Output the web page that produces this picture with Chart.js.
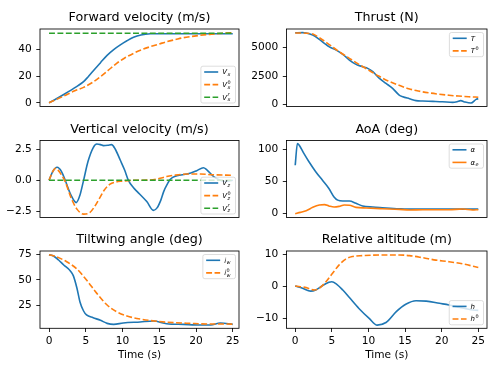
<!DOCTYPE html>
<html><head><meta charset="utf-8">
<script src="https://cdn.jsdelivr.net/npm/chart.js@4.4.1/dist/chart.umd.min.js"></script>
<style>
html,body{margin:0;padding:0;background:#fff;}
body{width:498px;height:374px;position:relative;overflow:hidden;}
canvas{position:absolute;}
</style></head><body>
<canvas id="cFV"></canvas><canvas id="cT"></canvas>
<canvas id="cVV"></canvas><canvas id="cA"></canvas>
<canvas id="cI"></canvas><canvas id="cH"></canvas>
<script>
// ---------- data ----------
const xTicks = [0, 5, 10, 15, 20, 25];

// Forward velocity
const vxTime  = [0,1,2,3,3.8,4.7,5.3,6,7,7.9,8.8,9.7,10.6,11.5,12.5,13.8,15,17,20,25];
const vxVals  = [0,3,6.2,9.5,12.3,15.8,19.3,23.8,30,35.5,39.8,43.3,46.4,49,50.7,51.6,51.7,51.7,51.7,51.7];
const vx0Time = [0,1,2.4,3.5,4.7,6,7,8,9.2,10.3,11.5,12.6,13.8,15,16,17.2,18.3,19.5,20.6,21.8,22.9,24,25];
const vx0Vals = [0,2.5,6,9,11.5,15.5,19.5,24,29.5,33.5,37,39.7,42,44,45.7,47.3,48.7,49.7,50.5,51.2,51.7,52.1,52.4];
const vxrTime = [0,25];
const vxrVals = [52,52];
const fvTicks = [0,20,40];
const fvTickLabels = ['0','20','40'];

// Thrust
const tTime  = [0,1,1.5,2.4,3.3,4,4.6,5.6,6.5,7.4,8.3,9.2,9.9,10.6,11.5,12.4,13.3,14.2,14.7,15.6,16.5,17.4,18.8,20.1,21.5,22.1,22.6,23.2,24,24.7,25];
const tVals  = [6320,6330,6300,6115,5730,5380,5090,4790,4410,3910,3530,3320,3175,2880,2290,1850,1410,820,675,500,325,295,265,235,175,230,325,200,118,440,500];
const t0Time = [0,1,1.5,2.4,3.3,4.6,6,7.4,8.7,10,11.4,12.7,14.1,15.5,16.8,18.2,19.6,21,22.3,23.7,25];
const t0Vals = [6300,6300,6280,6200,5880,5300,4650,4060,3530,3030,2500,2060,1700,1380,1180,1020,900,800,730,670,630];
const thTicks = [0,2500,5000];
const thTickLabels = ['0','2500','5000'];

// Vertical velocity
const vzTime  = [0,0.5,1.1,1.7,2.2,3,3.7,4.2,4.7,5.3,6,6.5,7,7.4,8,8.5,9,9.7,10.3,10.8,11.5,12,13.3,14.2,14.7,15.2,15.6,16.1,16.5,17.4,18.8,20.1,21,21.5,22.4,23.3,24,25];
const vzVals  = [0,0.7,1.04,0.7,0,-1.2,-1.78,-1.2,0,1.5,2.6,2.9,2.85,2.77,2.8,2.85,2.5,1.6,0.8,0,-0.6,-0.9,-1.7,-2.4,-2.2,-1.6,-0.9,-0.3,0.08,0.37,0.5,0.77,1.0,0.82,0.3,0,-0.1,0];
const vz0Time = [0,0.5,0.9,1.5,2.2,3,3.8,4.7,5.5,6.2,7,7.5,8.3,9,9.7,11.5,13.8,15.1,16,17,18.8,20.6,22,25];
const vz0Vals = [0,0.7,0.96,0.6,-0.1,-1.4,-2.3,-2.7,-2.6,-2.1,-1.3,-0.8,-0.3,-0.15,-0.08,0,0.03,0.16,0.3,0.4,0.5,0.5,0.45,0.4];
const vzrTime = [0,25];
const vzrVals = [0,0];
const vvTicks = [-2.5,0,2.5];
const vvTickLabels = ['\u22122.5','0.0','2.5'];

// AoA
const aTime  = [0,0.3,0.55,1.2,1.9,2.8,3.7,4.6,5.3,5.8,6.5,7.4,8.3,9.2,10.6,11.9,14.2,16,18,20,22,24,25];
const aVals  = [75,108.5,106,93,80,65,52,39,26,21,19.6,19.6,16,12,10.3,9.3,7.7,7,7,7,7,7,7];
const aeTime = [0,0.7,1.5,2.4,3.3,4,4.6,5.3,6,6.7,7.4,8.3,9.7,11.9,14.2,15.6,17.4,19.2,21,22.9,24.2,25];
const aeVals = [0,2,4.6,9.8,13.4,14,12,10.3,11.3,13.4,13,9.8,8.8,7.7,6.7,5.7,6.2,6.2,6.2,7.2,5.7,6.2];
const aoaTicks = [0,50,100];
const aoaTickLabels = ['0','50','100'];

// Tiltwing angle
const iwTime  = [0,0.6,1.3,2,2.9,3.3,3.8,4.2,4.7,5.1,6,7,7.9,8.8,10.1,12.4,14.2,16,18.3,20.6,22,23.3,25];
const iwVals  = [75,73.7,69.7,64.8,58.9,54.3,41.8,28.6,19.4,15.5,12.8,10.2,7.2,6.2,7.6,8.6,9.5,6.9,6.2,5.6,5.6,7.6,6.2];
const iw0Time = [0,1,2.4,3.8,5.1,6.5,7.9,9.2,10.6,12.4,14.7,17,19.2,21.5,25];
const iw0Vals = [75,73,68,60.8,50,36.8,25.3,18.7,14.5,11.5,9.2,7.9,7.2,6.6,6.5];
const iwTicks = [25,50,75];
const iwTickLabels = ['25','50','75'];

// Relative altitude
const hTime  = [0,1,2.1,2.8,3.7,4.6,5,5.6,6.5,7.4,8.7,10.1,11.2,12.4,13.8,15.1,16.5,17.9,19.7,21,22.5,24,25];
const hVals  = [0,-0.7,-1.6,-1.25,0.1,1.15,1.35,0.7,-1.25,-3.6,-7,-10.1,-12.2,-11.4,-8,-5.7,-4.6,-4.7,-5.4,-5.9,-6.7,-7.4,-7.6];
const h0Time = [0,1.5,2.6,3.3,4.2,5.1,6,6.9,7.8,9.2,11.9,14.2,15.6,17.4,19.2,21,22.9,25];
const h0Vals = [0,-0.5,-1.25,-0.7,1.35,4,6.6,8.4,9.2,9.5,9.7,9.7,9.5,8.85,8.1,7.6,6.9,5.8];
const altTicks = [-10,0,10];
const altTickLabels = ['\u221210','0','10'];

// ---------- style ----------
const C_BLUE = '#1f77b4', C_ORANGE = '#ff7f0e', C_GREEN = '#2ca02c';
const DASH = [5.9, 2.5];
const FONT = '"DejaVu Sans", sans-serif';
Chart.defaults.font.family = FONT;
Chart.defaults.color = '#000';

function pts(t, v) { return t.map((x, i) => ({ x: x, y: v[i] })); }

const legends = {};

function drawLabel(ctx, lab, x, yb) {
  ctx.font = 'italic 7px ' + FONT;
  ctx.fillText(lab.b, x, yb);
  const w = ctx.measureText(lab.b).width;
  const sx = x + w + 0.4;
  if (lab.sub) {
    ctx.font = 'italic 4.9px ' + FONT;
    ctx.fillText(lab.sub, sx, yb + 1.6);
  }
  if (lab.sup) {
    ctx.font = (lab.supI ? 'italic ' : '') + '4.9px ' + FONT;
    ctx.fillText(lab.sup, sx, yb - 3.3);
  }
}
function labelWidth(ctx, lab) {
  ctx.font = 'italic 7px ' + FONT;
  let w = ctx.measureText(lab.b).width + 0.4;
  let ws = 0, wp = 0;
  ctx.font = 'italic 4.9px ' + FONT;
  if (lab.sub) ws = ctx.measureText(lab.sub).width;
  if (lab.sup) wp = ctx.measureText(lab.sup).width;
  return w + Math.max(ws, wp);
}

Chart.register({
  id: 'mplDecor',
  afterDatasetsDraw(chart) {
    const ctx = chart.ctx, ca = chart.chartArea;
    ctx.save();
    // frame
    ctx.strokeStyle = '#000';
    ctx.lineWidth = 0.85;
    ctx.strokeRect(ca.left, ca.top, ca.right - ca.left, ca.bottom - ca.top);
    // legend
    const lg = legends[chart.canvas.id];
    if (lg) {
      const n = lg.items.length;
      const rowH = 12.6, marg = 5.8;
      let tw = 0;
      lg.items.forEach(it => { tw = Math.max(tw, labelWidth(ctx, it.lab)); });
      const bw = 3.3 + 14 + 4 + tw + 5;
      const bh = 2 * marg + (n - 1) * rowH;
      const bx = ca.right - 3.5 - bw;
      const by = lg.loc === 'upper right' ? ca.top + 3.5 : ca.bottom - 3.5 - bh;
      const r = 2;
      ctx.beginPath();
      ctx.moveTo(bx + r, by);
      ctx.lineTo(bx + bw - r, by); ctx.quadraticCurveTo(bx + bw, by, bx + bw, by + r);
      ctx.lineTo(bx + bw, by + bh - r); ctx.quadraticCurveTo(bx + bw, by + bh, bx + bw - r, by + bh);
      ctx.lineTo(bx + r, by + bh); ctx.quadraticCurveTo(bx, by + bh, bx, by + bh - r);
      ctx.lineTo(bx, by + r); ctx.quadraticCurveTo(bx, by, bx + r, by);
      ctx.closePath();
      ctx.fillStyle = 'rgba(255,255,255,0.8)';
      ctx.fill();
      ctx.strokeStyle = 'rgba(204,204,204,0.8)';
      ctx.lineWidth = 0.85;
      ctx.stroke();
      lg.items.forEach((it, i) => {
        const cy = by + marg + i * rowH;
        ctx.beginPath();
        ctx.setLineDash(it.d ? DASH : []);
        ctx.strokeStyle = it.c;
        ctx.lineWidth = 1.6;
        ctx.moveTo(bx + 3.3, cy);
        ctx.lineTo(bx + 17.3, cy);
        ctx.stroke();
        ctx.setLineDash([]);
        ctx.fillStyle = '#000';
        ctx.textAlign = 'left';
        ctx.textBaseline = 'alphabetic';
        drawLabel(ctx, it.lab, bx + 21.3, cy + 2.4);
      });
    }
    ctx.restore();
  }
});

function gridOpts() {
  return { display: true, drawOnChartArea: false, drawTicks: true, tickLength: 3.7, tickColor: '#000', tickWidth: 0.85 };
}

function build(id, o) {
  const cv = document.getElementById(id);
  cv.width = o.cw; cv.height = o.ch;
  cv.style.left = o.cx + 'px'; cv.style.top = o.cy + 'px';
  const datasets = o.series.map((s, i) => ({
    data: pts(s.t, s.v), borderColor: s.c, backgroundColor: s.c, borderWidth: 1.6,
    borderDash: s.d ? DASH : [], pointRadius: 0, pointHoverRadius: 0, fill: false,
    cubicInterpolationMode: 'monotone', order: 10 - i, borderCapStyle: 'butt', borderJoinStyle: 'round'
  }));
  legends[id] = { loc: o.loc, items: o.series.map(s => ({ c: s.c, d: s.d, lab: s.lab })) };
  const bottomRow = !!o.xh;
  new Chart(cv, {
    type: 'line',
    data: { datasets },
    options: {
      responsive: false, animation: false, devicePixelRatio: 1,
      events: [],
      layout: { padding: { left: 0, right: 6, top: 0, bottom: o.pb } },
      plugins: {
        legend: { display: false }, tooltip: { enabled: false },
        title: { display: true, fullSize: false, text: o.title, color: '#000', font: { size: 12.7, weight: 'normal' },
                 padding: { top: o.tpt, bottom: o.tpb } }
      },
      scales: {
        x: {
          type: 'linear', min: o.xmin, max: o.xmax, display: bottomRow,
          afterBuildTicks: s => { s.ticks = xTicks.map(v => ({ value: v })); },
          afterFit: s => { if (bottomRow) s.height = o.xh; s.paddingLeft = 0; s.paddingRight = 0; },
          grid: gridOpts(), border: { display: false },
          ticks: { font: { size: 10.6 }, color: '#000', padding: 3.3, maxRotation: 0, autoSkip: false,
                   callback: v => String(v) },
          title: { display: bottomRow, text: 'Time (s)', color: '#000', font: { size: 10.6 },
                   padding: { top: 0, bottom: 12.6 } }
        },
        y: {
          type: 'linear', min: o.ymin, max: o.ymax,
          afterBuildTicks: s => { s.ticks = o.yt.map(v => ({ value: v })); },
          afterFit: s => { s.width = o.yw; s.paddingTop = 0; s.paddingBottom = 0; },
          grid: gridOpts(), border: { display: false },
          ticks: { font: { size: 10.6 }, color: '#000', padding: 4.5, autoSkip: false,
                   callback: v => { const k = o.yt.indexOf(v); return k >= 0 ? o.ytl[k] : ''; } }
        }
      }
    }
  });
}

const LEFT = { cx: 0, cw: 245, yw: 40, xmin: -1.23, xmax: 25.85 };
const RIGHT = { cx: 246, cw: 247, yw: 40.5, xmin: -1.19, xmax: 26.19 };
const ROW1 = { cy: 4, ch: 111, pb: 8.5, tpt: 6.38, tpb: 3.38 };
const ROW2 = { cy: 115, ch: 111, pb: 8.5, tpt: 6.88, tpb: 3.38 };
const ROW3 = { cy: 226, ch: 148, pb: 0, tpt: 6.38, tpb: 3.38, xh: 45.7 };

build('cFV', Object.assign({}, LEFT, ROW1, {
  title: 'Forward velocity (m/s)', ymin: -2.8, ymax: 55.2, yt: fvTicks, ytl: fvTickLabels, loc: 'lower right',
  series: [
    { t: vxTime, v: vxVals, c: C_BLUE, d: false, lab: { b: 'V', sub: 'x' } },
    { t: vx0Time, v: vx0Vals, c: C_ORANGE, d: true, lab: { b: 'V', sub: 'x', sup: '0' } },
    { t: vxrTime, v: vxrVals, c: C_GREEN, d: true, lab: { b: 'V', sub: 'x', sup: 'r', supI: true } }
  ]
}));
build('cT', Object.assign({}, RIGHT, ROW1, {
  title: 'Thrust (N)', ymin: -190, ymax: 6650, yt: thTicks, ytl: thTickLabels, loc: 'upper right',
  series: [
    { t: tTime, v: tVals, c: C_BLUE, d: false, lab: { b: 'T' } },
    { t: t0Time, v: t0Vals, c: C_ORANGE, d: true, lab: { b: 'T', sup: '0' } }
  ]
}));
build('cVV', Object.assign({}, LEFT, ROW2, {
  title: 'Vertical velocity (m/s)', ymin: -2.97, ymax: 3.18, yt: vvTicks, ytl: vvTickLabels, loc: 'lower right',
  series: [
    { t: vzTime, v: vzVals, c: C_BLUE, d: false, lab: { b: 'V', sub: 'z' } },
    { t: vz0Time, v: vz0Vals, c: C_ORANGE, d: true, lab: { b: 'V', sub: 'z', sup: '0' } },
    { t: vzrTime, v: vzrVals, c: C_GREEN, d: true, lab: { b: 'V', sub: 'z', sup: 'r', supI: true } }
  ]
}));
build('cA', Object.assign({}, RIGHT, ROW2, {
  title: 'AoA (deg)', ymin: -5.9, ymax: 113.3, yt: aoaTicks, ytl: aoaTickLabels, loc: 'upper right',
  series: [
    { t: aTime, v: aVals, c: C_BLUE, d: false, lab: { b: '\u03b1' } },
    { t: aeTime, v: aeVals, c: C_ORANGE, d: false, lab: { b: '\u03b1', sub: 'e' } }
  ]
}));
build('cI', Object.assign({}, LEFT, ROW3, {
  title: 'Tiltwing angle (deg)', ymin: 2.34, ymax: 78.6, yt: iwTicks, ytl: iwTickLabels, loc: 'upper right',
  series: [
    { t: iwTime, v: iwVals, c: C_BLUE, d: false, lab: { b: 'i', sub: 'w' } },
    { t: iw0Time, v: iw0Vals, c: C_ORANGE, d: true, lab: { b: 'i', sub: 'w', sup: '0' } }
  ]
}));
build('cH', Object.assign({}, RIGHT, ROW3, {
  title: 'Relative altitude (m)', ymin: -13.2, ymax: 10.94, yt: altTicks, ytl: altTickLabels, loc: 'lower right',
  series: [
    { t: hTime, v: hVals, c: C_BLUE, d: false, lab: { b: 'h' } },
    { t: h0Time, v: h0Vals, c: C_ORANGE, d: true, lab: { b: 'h', sup: '0' } }
  ]
}));
</script>
</body></html>
